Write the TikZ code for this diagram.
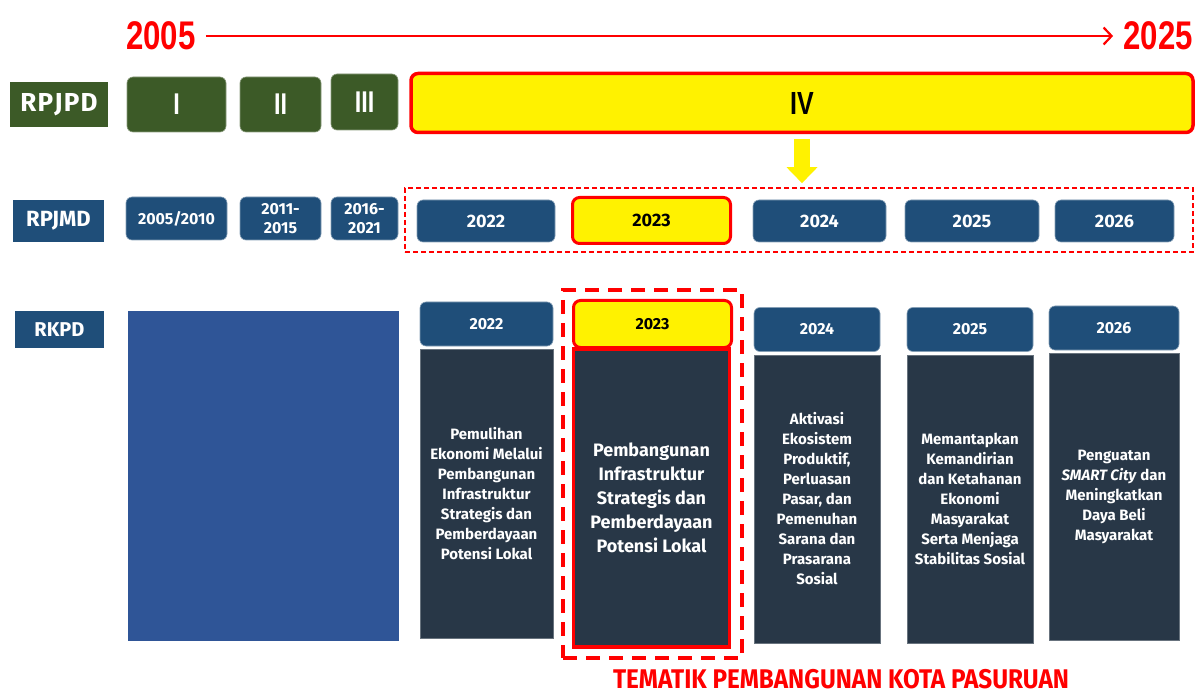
\documentclass[tikz,border=0pt]{standalone}
\usepackage{fontspec}
\setmainfont{Fira Sans}
\newfontfamily\narrowfont[FakeStretch=0.78]{Liberation Sans}
\newfontfamily\condfont[FakeStretch=0.9]{Fira Sans}
\usetikzlibrary{
  arrows.meta,
  positioning,
  fit
}
\definecolor{rpjpdgreen}{HTML}{3C5A27}
\definecolor{navyblue}{HTML}{1F4E79}
\definecolor{bodyslate}{HTML}{283747}
\definecolor{rkpdblue}{HTML}{2F5597}

\begin{document}
\begin{tikzpicture}[x=1pt,y=-1pt,>=Latex,
  greenbox/.style={fill=rpjpdgreen,draw=rpjpdgreen!60!white,line width=0.6pt,
    rounded corners=6pt,text=white,inner sep=0pt,
    font=\narrowfont\bfseries\fontsize{30}{30}\selectfont},
  navybox/.style={fill=navyblue,draw=navyblue!55!white,line width=0.6pt,
    rounded corners=6pt,text=white,inner sep=0pt,align=center,
    font=\bfseries\fontsize{16}{19}\selectfont},
  hilite/.style={fill=yellow,draw=red,line width=3.5pt,rounded corners=7pt,
    text=black,inner sep=0pt},
  levellabel/.style={text=white,inner sep=0pt,
    font=\bfseries\fontsize{#1}{#1}\selectfont},
  bodybox/.style={fill=bodyslate,draw=bodyslate!70!white,line width=0.6pt,
    text=white,inner sep=3pt,align=center,
    font=\bfseries\fontsize{15}{20}\selectfont},
  yearlabel/.style={text=red,inner sep=0pt,
    font=\narrowfont\bfseries\fontsize{40}{40}\selectfont}
]
  \useasboundingbox (0,0) rectangle (1195,695);

  % timeline
  \node[yearlabel] (start) at (161,36) {2005};
  \node[yearlabel] (end) at (1158,36) {2025};
  \draw[red,line width=2.2pt,shorten <=10pt,shorten >=10pt,
        -{Straight Barb[length=8pt,width=17pt]}] (start) -- (end);

  % RPJPD
  \node[fill=rpjpdgreen,minimum width=98pt,minimum height=45pt,levellabel=26] (rpjpd) at (59,104.5)
        {R\kern1.2pt P\kern1.2pt J\kern1.2pt P\kern1.2pt D};
  \node[greenbox,minimum width=99pt,minimum height=55pt] (p1) at (176.5,104.5) {I};
  \node[greenbox,minimum width=81pt,minimum height=55pt] (p2) at (280.5,104.5) {II};
  \node[greenbox,minimum width=67pt,minimum height=56pt] (p3) at (364.5,102) {III};
  \node[hilite,minimum width=782pt,minimum height=59pt,
        font=\narrowfont\bfseries\fontsize{32}{32}\selectfont] (p4) at (802,103) {IV};

  % RPJMD
  \node[fill=navyblue,minimum width=91pt,minimum height=42pt,levellabel=22] (rpjmd) at (58.5,221) {RPJMD};
  \node[navybox,minimum width=101pt,minimum height=43pt] (m1) at (176.5,218.5) {2005/2010};
  \node[navybox,minimum width=81pt,minimum height=43pt] (m2) at (280.5,218.5) {2011-\\2015};
  \node[navybox,minimum width=67pt,minimum height=43pt] (m3) at (364.5,218.5) {2016-\\2021};
  \foreach \yr/\cx/\w in {2022/486/138,2024/819.5/133,2025/972/134,2026/1114.5/119}
    \node[navybox,minimum width=\w pt,minimum height=42pt,
          font=\bfseries\fontsize{18}{18}\selectfont] (m\yr) at (\cx,221) {\yr};
  \node[hilite,line width=3pt,minimum width=158pt,minimum height=46pt,
        font=\bfseries\fontsize{18}{18}\selectfont] (m2023) at (651.5,220.5) {2023};
  \node[draw=red,line width=1.6pt,dash pattern=on 5pt off 3pt,inner sep=0pt,
        fit={(405,188)(1193,252)}] (mdframe) {};
  \draw[yellow,line width=16pt,shorten <=5pt,shorten >=4pt,
        -{Triangle[length=16pt,width=30pt]}] (p4.south) -- (p4.south |- mdframe.north);

  % RKPD
  \node[fill=navyblue,minimum width=89pt,minimum height=37pt,levellabel=20] (rkpd) at (59.5,329.5) {RKPD};
  \node[fill=rkpdblue,minimum width=271pt,minimum height=330pt] (pre) at (263.5,476) {};
  \foreach \yr/\cx/\w/\hy/\by/\bh/\txt in {
      2022/486.5/133/324/493.5/289/{Pemulihan\\Ekonomi Melalui\\Pembangunan\\Infrastruktur\\Strategis dan\\Pemberdayaan\\Potensi Lokal},
      2024/817/126/329.5/499/288/{Aktivasi\\Ekosistem\\Produktif,\\Perluasan\\Pasar, dan\\Pemenuhan\\Sarana dan\\Prasarana\\Sosial},
      2025/970/126/329.5/499/288/{Memantapkan\\Kemandirian\\dan Ketahanan\\Ekonomi\\Masyarakat\\Serta Menjaga\\Stabilitas Sosial},
      2026/1114/130/328/496.5/287/{Penguatan\\\textit{SMART City} dan\\Meningkatkan\\Daya Beli\\Masyarakat}} {
    \node[navybox,minimum width=\w pt,minimum height=44pt] (h\yr) at (\cx,\hy) {\yr};
    \node[bodybox,minimum width=\w pt,minimum height=\bh pt] (b\yr) at (\cx,\by) {\txt};
  }
  \node[hilite,line width=3pt,minimum width=158pt,minimum height=47pt,
        font=\bfseries\fontsize{16}{16}\selectfont] (h2023) at (652.5,324) {2023};
  \node[bodybox,draw=red,line width=3.5pt,minimum width=156pt,minimum height=298pt,
        font=\bfseries\fontsize{18}{24}\selectfont] (b2023) at (651.5,498)
        {Pembangunan\\Infrastruktur\\Strategis dan\\Pemberdayaan\\Potensi Lokal};
  \node[draw=red,line width=4pt,dash pattern=on 14pt off 9pt,inner sep=0pt,
        fit={(563,290)(742,658)}] (rkframe) {};

  \node[text=red,anchor=south,inner sep=0pt,font=\condfont\bfseries\fontsize{27}{27}\selectfont]
        (theme) at (841,689) {TEMATIK PEMBANGUNAN KOTA PASURUAN};
\end{tikzpicture}
\end{document}
